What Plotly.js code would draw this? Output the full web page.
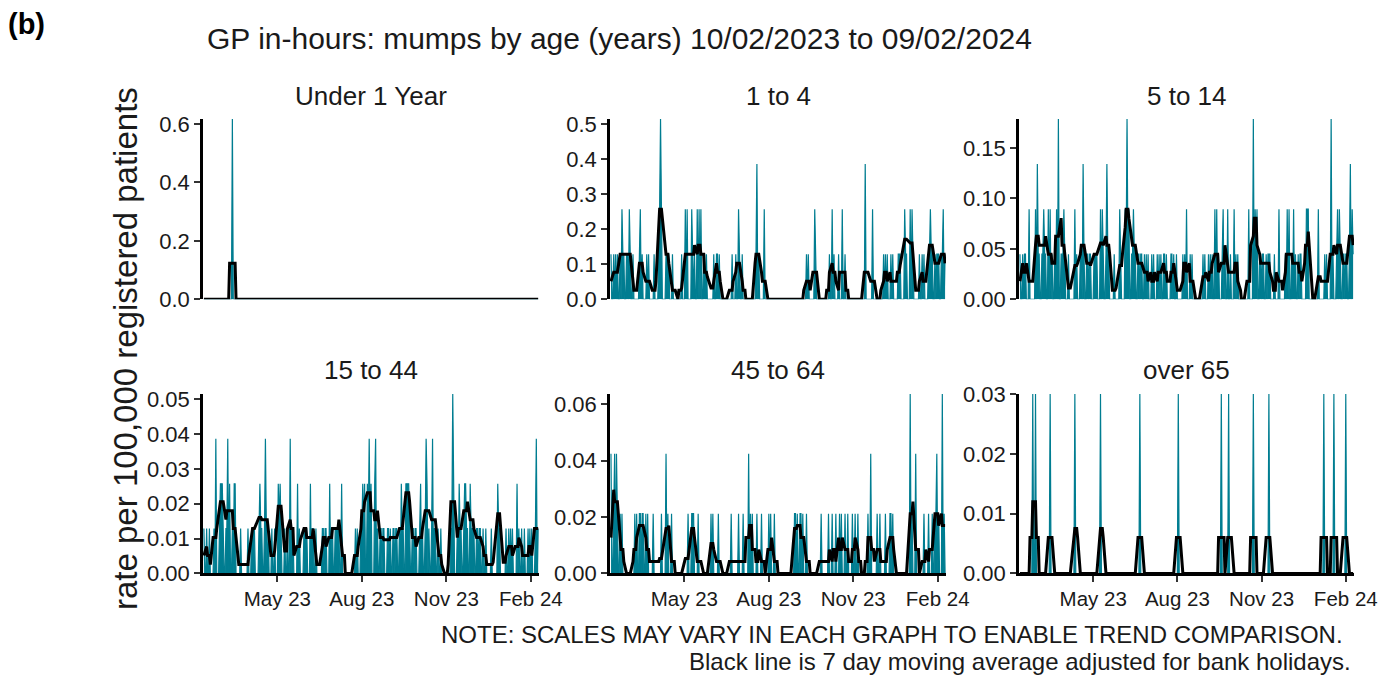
<!DOCTYPE html>
<html>
<head>
<meta charset="utf-8">
<script src="https://cdn.plot.ly/plotly-3.0.1.min.js"></script>
<style>
html,body{margin:0;padding:0;background:#ffffff;}
#chart{width:1378px;height:675px;}
</style>
</head>
<body>
<div id="chart"></div>
<script>
// ---------------- DATA ----------------
const startDate = '2023-02-10';
const endDate = '2024-02-09';
const bankHolidays = ['2023-04-07','2023-04-10','2023-05-01','2023-05-08','2023-05-29','2023-08-28','2023-12-25','2023-12-26','2024-01-01'];

const panelTitles = ['Under 1 Year', '1 to 4', '5 to 14', '15 to 44', '45 to 64', 'over 65'];
// rate per 100,000 registered patients represented by one consultation, per age group
const ratePerCase = [0.617, 0.1285, 0.0447, 0.01286, 0.0212, 0.030];

// daily consultations, one value per weekday from Fri 10/02/2023 (then Mon-Fri weeks)
const casesUnder1Dates = ['2023-03-13'];
const casesUnder1Counts = [1];

const casesOneToFour = [1,
1,0,1,0,1, 1,0,2,1,1, 1,1,0,2,1, 1,0,0,0,0, 1,2,0,1,0,
0,1,0,1,0, 0,0,1,0,0, 1,2,4,1,0, 0,1,1,1,1, 0,1,0,0,0,
0,0,0,0,1, 0,2,0,2,0, 0,2,1,0,1, 2,0,2,0,2, 1,1,0,1,0,
0,0,0,0,1, 1,1,0,1,0, 0,0,0,0,0, 0,0,0,1,0, 1,0,0,2,1,
1,0,0,0,0, 0,0,0,0,0, 0,1,3,0,1, 0,0,0,2,0, 0,0,0,0,0,
0,0,0,0,0, 0,0,0,0,0, 0,0,0,0,0, 0,0,0,0,0, 0,0,0,0,0,
1,0,1,0,0, 0,0,2,1,0, 0,0,0,0,0, 0,0,0,0,1, 2,0,1,0,0,
1,0,0,0,2, 1,0,0,0,0, 0,0,0,0,0, 0,0,0,0,0, 0,3,0,0,0,
0,0,2,0,0, 0,0,0,0,0, 1,0,1,0,1, 0,1,0,1,0, 0,0,1,1,1,
0,1,2,1,1, 0,2,0,2,1, 0,0,0,0,1, 1,0,1,0,0, 1,1,2,1,1,
1,0,1,1,1, 1,1,2,0,1];

const casesFiveToFourteen = [1,
1,0,1,1,0, 2,0,0,0,0, 2,0,3,1,1, 1,1,2,1,1, 2,0,2,0,1,
1,0,2,0,4, 1,1,1,2,1, 0,1,0,0,0, 0,2,0,1,0, 1,1,0,3,1,
1,1,0,1,1, 0,1,1,1,1, 0,2,0,2,1, 1,3,1,1,0, 0,0,1,0,0,
0,2,1,0,0, 2,1,4,1,2, 1,1,2,1,1, 1,1,0,1,1, 1,0,1,0,1,
0,1,0,1,0, 1,0,1,0,1, 1,1,0,1,0, 0,1,1,0,1, 1,0,0,0,0,
1,0,1,0,2, 0,1,0,1,0, 0,0,0,0,0, 0,1,0,1,0, 1,0,1,0,1,
2,0,2,0,1, 0,1,2,0,1, 2,0,0,1,0, 2,0,1,0,1, 0,0,0,0,0,
0,0,2,0,0, 4,0,2,1,2, 1,1,0,1,1, 1,0,1,1,1, 0,0,1,0,0,
2,0,0,0,0, 1,0,2,0,2, 1,0,2,0,1, 1,0,1,1,0, 0,0,2,2,2,
0,1,0,0,0, 0,2,0,0,0, 0,1,0,1,0, 0,4,0,1,0, 1,2,0,2,1,
1,1,0,1,1, 1,3,0,2,1];

const casesFifteenToFortyFour = [1,
1,0,0,1,0, 0,1,0,3,0, 1,2,2,2,1, 1,1,3,0,2, 1,0,2,2,0,
0,0,1,0,0, 0,0,0,1,0, 1,1,1,1,0, 0,1,2,1,1, 1,3,1,0,1,
0,1,0,0,1, 0,2,1,2,1, 0,1,0,0,1, 3,0,1,1,0, 0,2,0,1,0,
0,1,1,1,1, 0,2,0,1,1, 1,0,0,0,0, 1,1,0,1,1, 0,2,0,1,1,
1,1,1,1,1, 2,0,0,0,0, 0,0,0,0,0, 0,1,0,1,0, 1,1,2,1,2,
2,1,3,1,2, 0,2,3,0,1, 1,1,0,1,1, 0,1,1,0,1, 1,1,0,1,1,
1,0,2,1,1, 2,2,2,2,1, 1,1,0,1,1, 0,1,2,0,1, 1,3,2,0,1,
1,3,0,1,1, 1,0,0,1,0, 0,0,0,0,0, 1,1,4,2,0, 1,0,2,1,1,
1,2,2,1,1, 2,1,1,1,1, 1,1,0,1,1, 1,0,0,1,0, 0,0,1,0,0,
0,1,2,1,1, 0,0,0,0,1, 1,0,1,0,1, 0,0,2,0,1, 1,0,0,1,0,
1,0,1,0,1, 0,1,3,0,1];

const casesFortyFiveToSixtyFour = [2,
1,2,0,2,1, 1,0,1,0,0, 0,0,0,0,0, 0,0,1,0,1, 1,1,0,1,1,
1,0,1,0,0, 0,1,0,0,0, 0,0,0,1,0, 0,2,0,1,0, 1,0,0,0,0,
0,0,0,0,0, 0,0,0,0,1, 0,1,1,1,0, 0,1,0,0,0, 0,0,0,0,0,
0,1,0,1,0, 0,0,1,0,0, 0,0,0,0,0, 0,0,1,0,0, 0,0,0,1,0,
0,1,0,0,0, 2,0,1,0,1, 0,0,1,0,0, 1,0,0,0,0, 0,1,0,1,0,
1,0,0,0,0, 0,0,0,0,0, 0,0,0,0,0, 0,1,1,0,1, 1,1,0,1,0,
1,0,0,0,0, 0,0,0,0,0, 0,0,1,0,0, 0,0,0,1,0, 1,0,0,0,1,
0,1,0,1,0, 1,0,0,1,0, 0,1,0,0,1, 1,0,0,0,0, 0,0,0,0,1,
2,0,0,0,0, 1,0,0,1,0, 0,0,1,0,0, 1,1,0,1,0, 0,0,0,0,0,
0,0,0,0,0, 0,3,0,1,0, 2,0,0,0,0, 0,0,1,0,0, 1,0,0,0,1,
1,1,2,0,1, 0,3,0,1,0];

const casesOver65Dates = ['2023-02-24','2023-02-27','2023-03-15','2023-04-11','2023-05-09','2023-06-21','2023-08-02',
  '2023-09-18','2023-09-26','2023-10-23','2023-11-09','2024-01-08','2024-01-19','2024-02-01'];
const casesOver65Counts = [1,1,1,1,1,1,1,1,1,1,1,1,1,1];

const yTickVals = [
  [0, 0.2, 0.4, 0.6],
  [0, 0.1, 0.2, 0.3, 0.4, 0.5],
  [0, 0.05, 0.10, 0.15],
  [0, 0.01, 0.02, 0.03, 0.04, 0.05],
  [0, 0.02, 0.04, 0.06],
  [0, 0.01, 0.02, 0.03]
];
const yTickFormats = ['.1f', '.1f', '.2f', '.2f', '.2f', '.2f'];
const xTickVals = ['2023-05-01', '2023-08-01', '2023-11-01', '2024-02-01'];
const xRange = ['2023-02-09', '2024-02-10'];

const chartTitle = 'GP in-hours: mumps by age (years) 10/02/2023 to 09/02/2024';
const yAxisTitle = 'rate per 100,000 registered patients';
const noteLine1 = 'NOTE: SCALES MAY VARY IN EACH GRAPH TO ENABLE TREND COMPARISON.';
const noteLine2 = 'Black line is 7 day moving average adjusted for bank holidays.';
const figureLabel = '(b)';

// ---------------- BUILD ----------------
const DAY = 86400000;
const t0 = Date.parse(startDate + 'T00:00:00Z'), t1 = Date.parse(endDate + 'T00:00:00Z');
const holidayMs = bankHolidays.map(d => Date.parse(d + 'T00:00:00Z'));
function isoDay(ms) { return new Date(ms).toISOString().slice(0, 10); }
function isWeekday(ms) { const dw = new Date(ms).getUTCDay(); return dw !== 0 && dw !== 6; }
function isOpen(ms) { return isWeekday(ms) && !holidayMs.includes(ms); }

const calendarMs = [];            // every calendar day in the period
for (let t = t0; t <= t1; t += DAY) calendarMs.push(t);
const weekdayMs = calendarMs.filter(isWeekday);   // index of the case arrays

function fromSparse(dates, counts) {
  const a = weekdayMs.map(() => 0);
  dates.forEach((d, i) => { const k = weekdayMs.indexOf(Date.parse(d + 'T00:00:00Z')); if (k >= 0) a[k] = counts[i]; });
  return a;
}
const panelCases = [
  fromSparse(casesUnder1Dates, casesUnder1Counts),
  casesOneToFour,
  casesFiveToFourteen,
  casesFifteenToFortyFour,
  casesFortyFiveToSixtyFour,
  fromSparse(casesOver65Dates, casesOver65Counts)
];

const openMs = weekdayMs.filter(isOpen);
const openDates = openMs.map(isoDay);
const calendarDates = calendarMs.map(isoDay);

function movingAverage(rateByDay) {
  // 7 day window centred on each open day; divided by the open (weekday, non bank holiday) days in that window
  return openMs.map(t => {
    let s = 0, n = 0;
    for (let u = t - 3 * DAY; u <= t + 3 * DAY; u += DAY) {
      if (!isOpen(u)) continue;
      n++;
      if (rateByDay.has(u)) s += rateByDay.get(u);
    }
    return s / n;
  });
}

const teal = '#007d91';
const fontFamily = '"Liberation Sans", Arial, Helvetica, sans-serif';
const colDomains = [[0.1473, 0.3912], [0.4427, 0.6865], [0.7395, 0.9826]];
const rowDomains = [[0.5566, 0.8237], [0.1504, 0.4163]];

const traces = [];
const layout = {
  width: 1378, height: 675,
  margin: {l: 0, r: 0, t: 0, b: 0},
  paper_bgcolor: '#ffffff', plot_bgcolor: '#ffffff',
  showlegend: false,
  font: {family: fontFamily, color: '#1a1a1a'},
  annotations: []
};

panelCases.forEach((cases, p) => {
  const rateByDay = new Map();
  weekdayMs.forEach((t, i) => { if (isOpen(t)) rateByDay.set(t, cases[i] * ratePerCase[p]); });
  // daily series on the calendar: no in-hours consultations on weekends / bank holidays
  const dailyRates = calendarMs.map(t => rateByDay.has(t) ? rateByDay.get(t) : 0);
  const ma = movingAverage(rateByDay);
  const ax = p === 0 ? '' : String(p + 1);
  const xa = 'x' + ax, ya = 'y' + ax;
  traces.push({
    type: 'scatter', mode: 'lines', x: calendarDates, y: dailyRates, xaxis: xa, yaxis: ya,
    line: {color: teal, width: 1.2}, fill: 'tozeroy', fillcolor: teal, hoverinfo: 'skip'
  });
  traces.push({
    type: 'scatter', mode: 'lines', x: openDates, y: ma, xaxis: xa, yaxis: ya,
    line: {color: '#000000', width: 3}, hoverinfo: 'skip'
  });
  const row = p < 3 ? 0 : 1, col = p % 3;
  const ymax = Math.max.apply(null, dailyRates);
  layout['xaxis' + ax] = {
    type: 'date', domain: colDomains[col], anchor: ya, range: xRange,
    showgrid: false, zeroline: false,
    showline: row === 1, linecolor: '#000000', linewidth: 2.2,
    ticks: row === 1 ? 'outside' : '', ticklen: 6, tickwidth: 2, tickcolor: '#333333',
    tickvals: xTickVals, tickformat: '%b %y', showticklabels: row === 1,
    tickfont: {size: 20.5, color: '#1a1a1a', family: fontFamily}
  };
  layout['yaxis' + ax] = {
    domain: rowDomains[row], anchor: xa, range: [0, ymax],
    showgrid: false, zeroline: false,
    showline: true, linecolor: '#000000', linewidth: 2.8,
    ticks: 'outside', ticklen: 6, tickwidth: 2, tickcolor: '#333333',
    tickvals: yTickVals[p], tickformat: yTickFormats[p],
    tickfont: {size: 22, color: '#1a1a1a', family: fontFamily}
  };
  layout.annotations.push({
    text: panelTitles[p], xref: 'paper', yref: 'paper',
    x: (colDomains[col][0] + colDomains[col][1]) / 2, y: row === 0 ? 0.8578 : 0.4519,
    xanchor: 'center', yanchor: 'middle', showarrow: false,
    font: {size: 26, color: '#1a1a1a', family: fontFamily}
  });
});

layout.annotations.push(
  {text: '<b>' + figureLabel + '</b>', xref: 'paper', yref: 'paper', x: 0.004, y: 0.965,
   xanchor: 'left', yanchor: 'middle', showarrow: false, font: {size: 29, color: '#000000', family: fontFamily}},
  {text: chartTitle, xref: 'paper', yref: 'paper', x: 0.1488, y: 0.9437,
   xanchor: 'left', yanchor: 'middle', showarrow: false, font: {size: 30, color: '#1a1a1a', family: fontFamily}},
  {text: yAxisTitle, xref: 'paper', yref: 'paper', x: 0.0907, y: 0.4844, textangle: -90,
   xanchor: 'center', yanchor: 'middle', showarrow: false, font: {size: 33, color: '#1a1a1a', family: fontFamily}},
  {text: noteLine1, xref: 'paper', yref: 'paper', x: 0.976, y: 0.0593,
   xanchor: 'right', yanchor: 'middle', showarrow: false, font: {size: 24, color: '#1a1a1a', family: fontFamily}},
  {text: noteLine2, xref: 'paper', yref: 'paper', x: 0.9819, y: 0.0207,
   xanchor: 'right', yanchor: 'middle', showarrow: false, font: {size: 24, color: '#1a1a1a', family: fontFamily}}
);

Plotly.newPlot('chart', traces, layout, {staticPlot: true, displayModeBar: false, responsive: false});
</script>
</body>
</html>
